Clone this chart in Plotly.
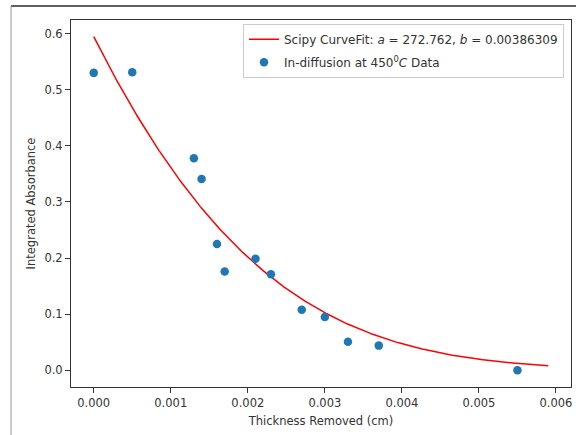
import math
import numpy as np
import plotly.graph_objects as go

# Measured in-diffusion data: thickness removed (cm) vs integrated absorbance
thickness_cm = [0.0, 0.0005, 0.0013, 0.0014, 0.0016, 0.0017, 0.0021,
                0.0023, 0.0027, 0.0030, 0.0033, 0.0037, 0.0055]
absorbance = [0.530, 0.531, 0.378, 0.341, 0.225, 0.176, 0.199,
              0.171, 0.108, 0.095, 0.051, 0.044, 0.000]

# Fitted parameters from scipy curve_fit
a_fit = 272.762
b_fit = 0.00386309
fit_x_max = 0.0059

x_ticks = [0.000, 0.001, 0.002, 0.003, 0.004, 0.005, 0.006]
y_ticks = [0.0, 0.1, 0.2, 0.3, 0.4, 0.5, 0.6]


def ierfc(z):
    """Integrated complementary error function."""
    return math.exp(-z * z) / math.sqrt(math.pi) - z * math.erfc(z)


# Model: integrated absorbance remaining = a * b * ierfc(x / b)
x_fit = np.linspace(0.0, fit_x_max, 300)
y_fit = np.array([a_fit * b_fit * ierfc(x / b_fit) for x in x_fit])

FONT = "DejaVu Sans"
INK = "#333333"

fig = go.Figure()
fig.add_trace(go.Scatter(
    x=x_fit, y=y_fit, mode="lines",
    line=dict(color="#ff0000", width=1.5),
    name=f"Scipy CurveFit: <i>a</i> = {a_fit}, <i>b</i> = {b_fit}",
    legendgroup="fit",
))
fig.add_trace(go.Scatter(
    x=thickness_cm, y=absorbance, mode="markers",
    marker=dict(color="#1f77b4", size=8.5),
    name="In-diffusion at 450<sup>0</sup><i>C</i> Data",
    legendgroup="data",
))

# Ranges follow matplotlib's 5% autoscale margins
x_lo, x_hi = 0.0, fit_x_max
y_lo, y_hi = 0.0, float(y_fit.max())
xpad = 0.05 * (x_hi - x_lo)
ypad = 0.05 * (y_hi - y_lo)

axis_common = dict(
    showgrid=False, zeroline=False,
    showline=True, linecolor=INK, linewidth=1, mirror=True,
    ticks="outside", ticklen=5, tickwidth=1, tickcolor=INK,
    tickfont=dict(family=FONT, size=11.5, color=INK),
    automargin=False,
)

fig.update_xaxes(
    range=[x_lo - xpad, x_hi + xpad],
    tickvals=x_ticks, tickformat=".3f",
    title=dict(text="Thickness Removed (cm)", standoff=8,
               font=dict(family=FONT, size=11.5, color=INK)),
    **axis_common,
)
fig.update_yaxes(
    range=[y_lo - ypad, y_hi + ypad],
    tickvals=y_ticks, tickformat=".1f",
    title=dict(text="Integrated Absorbance", standoff=6,
               font=dict(family=FONT, size=11.5, color=INK)),
    **axis_common,
)

# Border of the surrounding frame (top and left edges)
fig.add_shape(type="line", xref="paper", yref="paper",
              x0=-0.12, x1=1.2, y0=1.0381, y1=1.0381,
              line=dict(color="#2a2a2a", width=1.5))
fig.add_shape(type="line", xref="paper", yref="paper",
              x0=-0.12, x1=-0.12, y0=1.0381, y1=-0.2,
              line=dict(color="#aaaaaa", width=1.2))

fig.update_layout(
    width=576, height=435,
    margin=dict(l=71, r=5, t=20, b=48),
    paper_bgcolor="white", plot_bgcolor="white",
    font=dict(family=FONT, color=INK),
    showlegend=True,
    legend=dict(
        x=0.344, y=0.99, xanchor="left", yanchor="top",
        bgcolor="rgba(255,255,255,0.8)",
        bordercolor="#cccccc", borderwidth=1,
        font=dict(family=FONT, size=12, color=INK),
        tracegroupgap=4,
    ),
)

fig.write_html("out.html")
